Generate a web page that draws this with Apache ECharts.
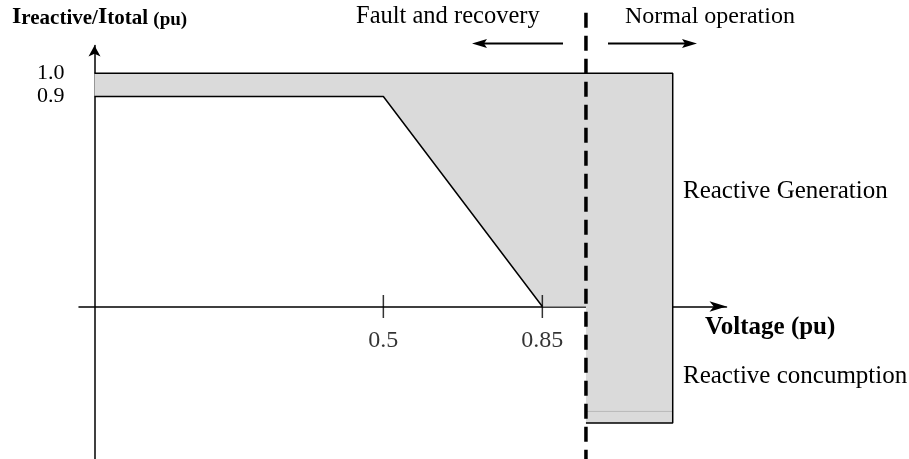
<!DOCTYPE html>
<html>
<head>
<meta charset="utf-8">
<script src="https://cdn.jsdelivr.net/npm/echarts@6/dist/echarts.min.js"></script>
<style>
  html, body {margin: 0; padding: 0; background: #fff;}
  #chart {width: 909px; height: 459px;}
</style>
</head>
<body>
<div id="chart"></div>
<script>
const FONT = "Liberation Serif";

// axis ticks and labels
const voltageTicks = [0.5, 0.85];
const ratioLabels = [0.9, 1.0];

// shaded operating area (voltage, Ireactive/Itotal)
const shadeX = [-0.136, 1.137, 1.137, 0.946, 0.946, 0.85, 0.5, -0.136];
const shadeY = [1.0, 1.0, -0.5, -0.5, 0, 0, 0.9, 0.9];

// minimum reactive current curve
const curveX = [-0.136, 0.5, 0.85];
const curveY = [0.9, 0.9, 0];

// outer limit 1.0 and right hand box
const limitX = [-0.136, 1.137, 1.137, 0.946];
const limitY = [1.0, 1.0, -0.5, -0.5];

// faint line inside the consumption box
const innerX = [0.946, 1.137];
const innerY = [-0.45, -0.45];

// boundary between fault and normal operation
const boundX = [0.946, 0.946];
const boundY = [1.259, -0.654];

const pairs = (xs, ys) => xs.map((x, i) => [x, ys[i]]);

const chart = echarts.init(document.getElementById("chart"));

const txt = (x, baseline, text, size, bold) => ({
  type: "text",
  x: x,
  y: baseline - size * 0.34,
  style: {
    text: text,
    fill: "#000",
    font: (bold ? "bold " : "") + size + "px '" + FONT + "'",
    align: "left",
    verticalAlign: "middle",
  },
});

const arrow = (x1, x2, y) => {
  const dir = x2 > x1 ? 1 : -1;
  return {
    type: "group",
    children: [
      {type: "line", shape: {x1: x1, y1: y, x2: x2 - dir * 8, y2: y}, style: {stroke: "#000", lineWidth: 1.8}},
      {type: "polygon", shape: {points: [[x2, y], [x2 - dir * 15, y - 4.5], [x2 - dir * 12, y], [x2 - dir * 15, y + 4.5]]}, style: {fill: "#000"}},
    ],
  };
};

chart.setOption({
  animation: false,
  backgroundColor: "#fff",
  textStyle: {fontFamily: FONT, color: "#000"},
  grid: {left: 79, right: 182.5, top: 45.5, bottom: 0, containLabel: false, outerBoundsMode: "none"},
  xAxis: {
    type: "value",
    min: -0.17,
    max: 1.2554,
    splitLine: {show: false},
    axisLine: {
      onZero: true,
      symbol: ["none", "arrow"],
      symbolSize: [8, 17],
      lineStyle: {color: "#000", width: 1.5},
    },
    axisTick: {show: false},
    axisLabel: {show: false},
  },
  yAxis: {
    type: "value",
    min: -0.654,
    max: 1.119,
    offset: -15.5,
    splitLine: {show: false},
    axisLine: {
      onZero: false,
      symbol: ["none", "arrow"],
      symbolSize: [9, 11],
      lineStyle: {color: "#000", width: 1.5},
    },
    axisTick: {show: false},
    axisLabel: {
      customValues: ratioLabels,
      formatter: v => v.toFixed(1),
      margin: 30,
      fontSize: 22,
      fontFamily: FONT,
      color: "#000",
    },
  },
  series: [
    {
      type: "custom",
      clip: false,
      z: 1,
      data: [[0, 0]],
      renderItem: (params, api) => ({
        type: "polygon",
        shape: {points: pairs(shadeX, shadeY).map(p => api.coord(p))},
        style: {fill: "#dadada"},
      }),
    },
    {
      type: "line",
      data: pairs(innerX, innerY),
      symbol: "none",
      z: 2,
      lineStyle: {color: "#b8b8b8", width: 1},
    },
    {
      type: "line",
      data: pairs(curveX, curveY),
      symbol: "none",
      z: 3,
      lineStyle: {color: "#000", width: 1.5},
    },
    {
      type: "line",
      data: pairs(limitX, limitY),
      symbol: "none",
      z: 3,
      lineStyle: {color: "#000", width: 1.5},
    },
    {
      type: "scatter",
      data: voltageTicks.map(v => [v, 0]),
      symbol: "rect",
      symbolSize: [1.5, 23],
      z: 4,
      itemStyle: {color: "#000"},
      label: {
        show: true,
        position: "bottom",
        distance: 11,
        formatter: p => String(p.value[0]),
        fontSize: 24,
        fontFamily: FONT,
        color: "#000",
      },
    },
    {
      type: "line",
      data: pairs(boundX, boundY),
      symbol: "none",
      clip: false,
      z: 5,
      lineStyle: {color: "#000", width: 3.5, type: [15, 8]},
    },
  ],
  graphic: [
    {
      type: "text",
      x: 12,
      y: 25 - 23 * 0.34,
      style: {
        text: "{big|I}{sm|reactive/}{big|I}{sm|total }{pu|(pu)}",
        fill: "#000",
        verticalAlign: "middle",
        rich: {
          big: {fontSize: 24, fontWeight: "bold", fontFamily: FONT, verticalAlign: "bottom"},
          sm: {fontSize: 21, fontWeight: "bold", fontFamily: FONT, verticalAlign: "bottom"},
          pu: {fontSize: 19, fontWeight: "bold", fontFamily: FONT, verticalAlign: "bottom"},
        },
      },
    },
    txt(356, 25, "Fault and recovery", 24.5, false),
    txt(625, 25, "Normal operation", 24, false),
    txt(683, 200, "Reactive Generation", 25, false),
    txt(705, 336, "Voltage (pu)", 25, true),
    txt(683, 385, "Reactive concumption", 25, false),
    arrow(563, 472, 43.5),
    arrow(608, 697, 43.5),
  ],
});
</script>
</body>
</html>
